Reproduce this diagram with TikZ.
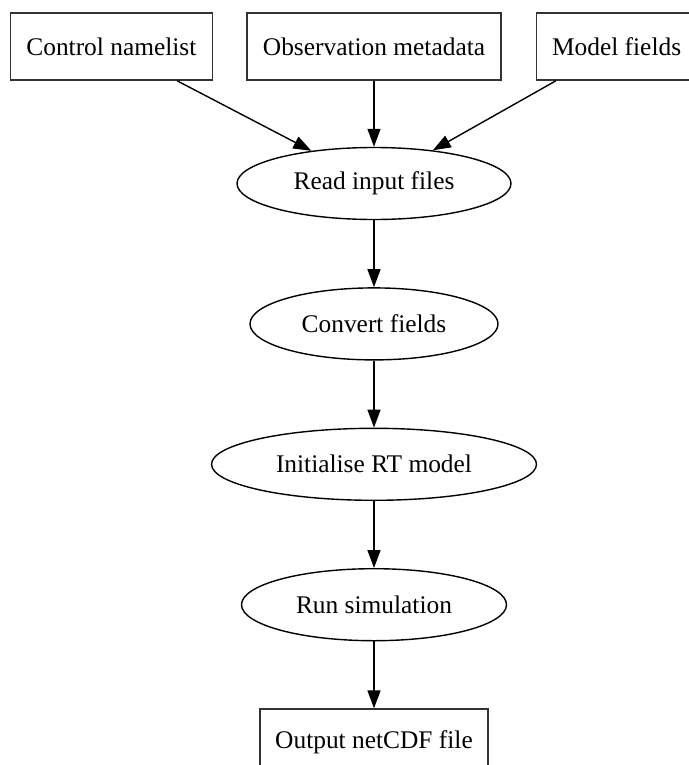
\documentclass[tikz,border=0pt]{standalone}
\usepackage{fontspec}
\setmainfont{Liberation Serif}
\usetikzlibrary{shapes.geometric, arrows.meta, positioning}

\begin{document}
\begin{tikzpicture}[
  font=\fontsize{12.7}{15}\selectfont,
  box/.style={draw, line width=0.8pt, black!80, text=black, minimum height=33.5pt, inner sep=2pt},
  proc/.style={draw, ellipse, line width=0.7pt, text=black, minimum height=36pt, inner sep=0pt},
  ar/.style={-{Triangle[length=9pt, width=6.5pt]}, line width=0.7pt}
]
\useasboundingbox (0,0) rectangle (344.5pt,-382.5pt);
% inputs
\node[box, minimum width=127pt] (obs) at (187pt,-23.25pt) {Observation metadata};
\node[box, minimum width=101pt, left=16.5pt of obs] (ctrl) {Control namelist};
\node[box, minimum width=80pt, right=17pt of obs] (model) {Model fields};
% processing chain
\node[proc, minimum width=137pt, below=33pt of obs] (readin) {Read input files};
\node[proc, minimum width=124pt, below=33.5pt of readin] (convert) {Convert fields};
\node[proc, minimum width=162.5pt, below=33.5pt of convert] (initrt) {Initialise RT model};
\node[proc, minimum width=132.5pt, below=33.5pt of initrt] (runsim) {Run simulation};
\node[box, minimum width=114pt, below=33.5pt of runsim] (output) {Output netCDF file};
\draw[ar] (ctrl) -- (readin);
\draw[ar] (obs) -- (readin);
\draw[ar] (model) -- (readin);
\draw[ar] (readin) -- (convert);
\draw[ar] (convert) -- (initrt);
\draw[ar] (initrt) -- (runsim);
\draw[ar] (runsim) -- (output);
\end{tikzpicture}
\end{document}
